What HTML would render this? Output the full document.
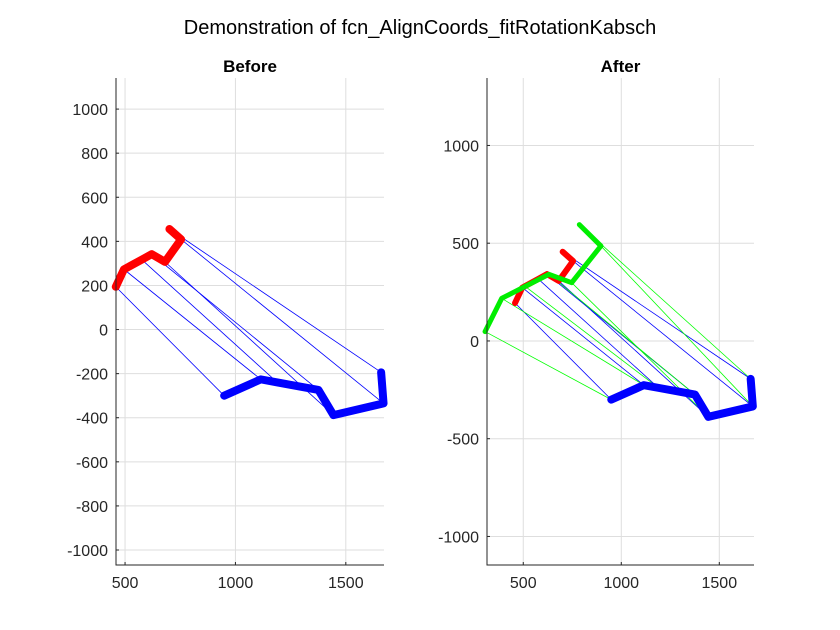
<!DOCTYPE html>
<html><head><meta charset="utf-8"><style>
body{margin:0;background:#fff;}
svg{display:block;font-family:"Liberation Sans",sans-serif;}
</style></head><body>
<svg id="fig" width="840" height="630">
<rect width="840" height="630" fill="#fff"/>
<text x="420" y="34" text-anchor="middle" font-size="20" fill="#000">Demonstration of fcn_AlignCoords_fitRotationKabsch</text>
</svg>
<script>
const redX=[458,495,576,621,681,754,701];
const redY=[194,273,317,342,307,409,456];
const blueX=[949,1115,1190,1376,1444,1671,1660];
const blueY=[-300,-226,-240,-274,-388,-335,-194];
const greenX=[305,390,510,631,747,896,786];
const greenY=[48,218,279,341,298,486,595];
const leftXTicks=[500,1000,1500];
const leftYTicks=[-1000,-800,-600,-400,-200,0,200,400,600,800,1000];
const rightXTicks=[500,1000,1500];
const rightYTicks=[-1000,-500,0,500,1000];

const NS="http://www.w3.org/2000/svg";
const svg=document.getElementById('fig');
function el(tag,attrs,parent){const e=document.createElementNS(NS,tag);for(const k in attrs)e.setAttribute(k,attrs[k]);(parent||svg).appendChild(e);return e;}

function panel(name,box,xlim,ylim,xt,yt,title,hasGreen){
  const g=el('g',{});
  
  
  const sx=v=>box.x+(v-xlim[0])/(xlim[1]-xlim[0])*box.w;
  const sy=v=>box.y+box.h-(v-ylim[0])/(ylim[1]-ylim[0])*box.h;
  xt.forEach(t=>{const l=el('line',{x1:sx(t),x2:sx(t),y1:box.y,y2:box.y+box.h,stroke:'#dedede','stroke-width':1},g);
    
    const tk=el('line',{x1:sx(t),x2:sx(t),y1:box.y+box.h,y2:box.y+box.h-3,stroke:'#262626','stroke-width':1},g);
    
    const tx=el('text',{x:sx(t),y:box.y+box.h+23,'text-anchor':'middle','font-size':16,fill:'#262626'},g);tx.textContent=t;
    });
  yt.forEach(t=>{const l=el('line',{x1:box.x,x2:box.x+box.w,y1:sy(t),y2:sy(t),stroke:'#dedede','stroke-width':1},g);
    
    const tk=el('line',{x1:box.x,x2:box.x+3,y1:sy(t),y2:sy(t),stroke:'#262626','stroke-width':1},g);
    
    const tx=el('text',{x:box.x-8,y:sy(t)+6,'text-anchor':'end','font-size':16,fill:'#262626'},g);tx.textContent=t;
    });
  const pts=(X,Y)=>X.map((v,i)=>sx(v)+','+sy(Y[i])).join(' ');
  redX.forEach((v,i)=>{const l=el('line',{x1:sx(v),y1:sy(redY[i]),x2:sx(blueX[i]),y2:sy(blueY[i]),stroke:'#0000ff','stroke-width':0.8},g);
    });
  if(hasGreen){greenX.forEach((v,i)=>{const l=el('line',{x1:sx(v),y1:sy(greenY[i]),x2:sx(blueX[i]),y2:sy(blueY[i]),stroke:'#00ff00','stroke-width':0.8},g);
    });}
  const r=el('polyline',{points:pts(redX,redY),fill:'none',stroke:'#ff0000','stroke-width':hasGreen?6:8,'stroke-linejoin':'round','stroke-linecap':'round'},g);
  
  const b=el('polyline',{points:pts(blueX,blueY),fill:'none',stroke:'#0000ff','stroke-width':8,'stroke-linejoin':'round','stroke-linecap':'round'},g);
  
  if(hasGreen){const gr=el('polyline',{points:pts(greenX,greenY),fill:'none',stroke:'#00ee00','stroke-width':5,'stroke-linejoin':'round','stroke-linecap':'round'},g);
    }
  const ax=el('path',{d:`M${box.x},${box.y}V${box.y+box.h}H${box.x+box.w}`,fill:'none',stroke:'#262626','stroke-width':1},g);
  
  const tt=el('text',{x:box.x+box.w/2,y:box.y-6,'text-anchor':'middle','font-size':17,'font-weight':'bold',fill:'#000'},g);tt.textContent=title;
  
}
panel('before-plot',{x:116,y:78,w:268,h:487},[459,1673],[-1068,1141],leftXTicks,leftYTicks,'Before',false);
panel('after-plot',{x:487,y:78,w:267,h:487},[315,1677],[-1146,1345],rightXTicks,rightYTicks,'After',true);
</script>
</body></html>
